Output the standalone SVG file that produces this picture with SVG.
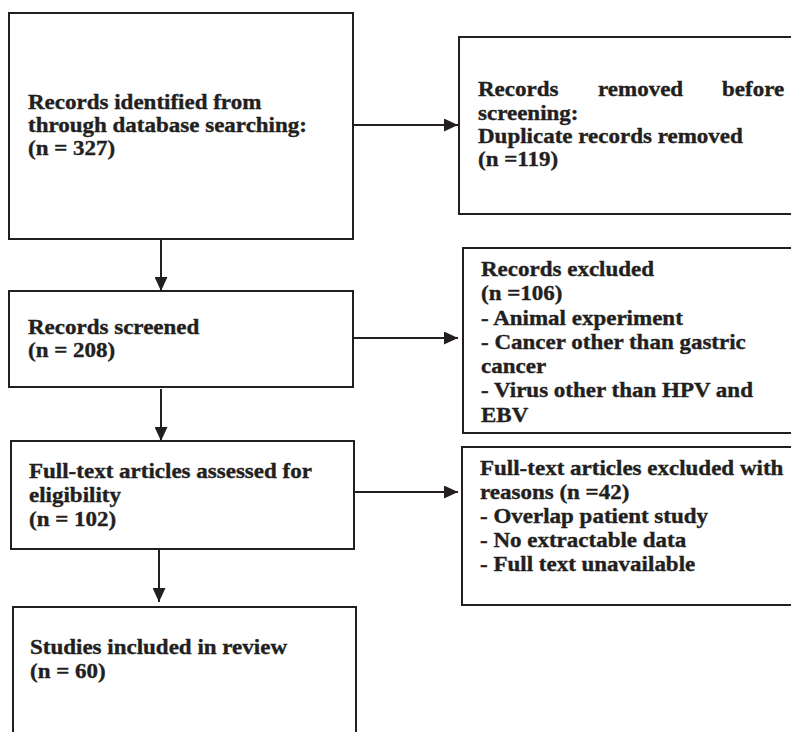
<svg xmlns="http://www.w3.org/2000/svg" width="791" height="732" viewBox="0 0 791 732">
<style>
.box{fill:#fff;stroke:#231f20;stroke-width:2}
.con{fill:none;stroke:#231f20;stroke-width:2}
text{font-family:"Liberation Serif","Times New Roman",serif;font-weight:bold;font-size:20px;fill:#231f20;stroke:#231f20;stroke-width:0.35}
</style>
<defs>
<marker id="ah" markerUnits="userSpaceOnUse" markerWidth="14" markerHeight="13" refX="14" refY="6.5" orient="auto">
<path d="M0,0 L14,6.5 L0,13 z" fill="#231f20"/>
</marker>
</defs>
<rect width="791" height="732" fill="#fff"/>
<g id="connectors">
<path class="con" d="M353,125 H458" marker-end="url(#ah)"/>
<path class="con" d="M161,239 V291" marker-end="url(#ah)"/>
<path class="con" d="M353,338 H458" marker-end="url(#ah)"/>
<path class="con" d="M161,389 V441" marker-end="url(#ah)"/>
<path class="con" d="M354,492 H458" marker-end="url(#ah)"/>
<path class="con" d="M159,549 V602" marker-end="url(#ah)"/>
</g>
<g id="identified">
<rect class="box" x="9" y="13" width="344" height="226"/>
<text transform="translate(28,109) scale(1.15,1)"><tspan x="0" y="0">Records identified from</tspan><tspan x="0" y="23">through database searching:</tspan><tspan x="0" y="46">(n = 327)</tspan></text>
</g>
<g id="removed">
<rect class="box" x="459" y="37" width="345" height="177"/>
<text transform="translate(478,96) scale(1.15,1)">Records</text>
<text transform="translate(598,96) scale(1.15,1)">removed</text>
<text transform="translate(722,96) scale(1.15,1)">before</text>
<text transform="translate(478,119.5) scale(1.15,1)"><tspan x="0" y="0">screening:</tspan><tspan x="0" y="23.3">Duplicate records removed</tspan><tspan x="0" y="46.6">(n =119)</tspan></text>
</g>
<g id="screened">
<rect class="box" x="9" y="291" width="344" height="96"/>
<text transform="translate(28,334) scale(1.15,1)"><tspan x="0" y="0">Records screened</tspan><tspan x="0" y="23.5">(n = 208)</tspan></text>
</g>
<g id="excluded">
<rect class="box" x="463" y="248" width="340" height="185"/>
<text transform="translate(481,276) scale(1.15,1)"><tspan x="0" y="0">Records excluded</tspan><tspan x="0" y="24.3">(n =106)</tspan><tspan x="0" y="48.6">- Animal experiment</tspan><tspan x="0" y="72.9">- Cancer other than gastric</tspan><tspan x="0" y="97.2">cancer</tspan><tspan x="0" y="121.5">- Virus other than HPV and</tspan><tspan x="0" y="145.8">EBV</tspan></text>
</g>
<g id="assessed">
<rect class="box" x="11" y="441" width="343" height="108"/>
<text transform="translate(29,478) scale(1.15,1)"><tspan x="0" y="0">Full-text articles assessed for</tspan><tspan x="0" y="24">eligibility</tspan><tspan x="0" y="48">(n = 102)</tspan></text>
</g>
<g id="fulltext-excluded">
<rect class="box" x="462" y="447" width="341" height="158"/>
<text transform="translate(480,475) scale(1.15,1)"><tspan x="0" y="0">Full-text articles excluded with</tspan><tspan x="0" y="24">reasons (n =42)</tspan><tspan x="0" y="48">- Overlap patient study</tspan><tspan x="0" y="72">- No extractable data</tspan><tspan x="0" y="96">- Full text unavailable</tspan></text>
</g>
<g id="included">
<rect class="box" x="13" y="607" width="343" height="140"/>
<text transform="translate(30,654) scale(1.15,1)"><tspan x="0" y="0">Studies included in review</tspan><tspan x="0" y="24">(n = 60)</tspan></text>
</g>
</svg>
